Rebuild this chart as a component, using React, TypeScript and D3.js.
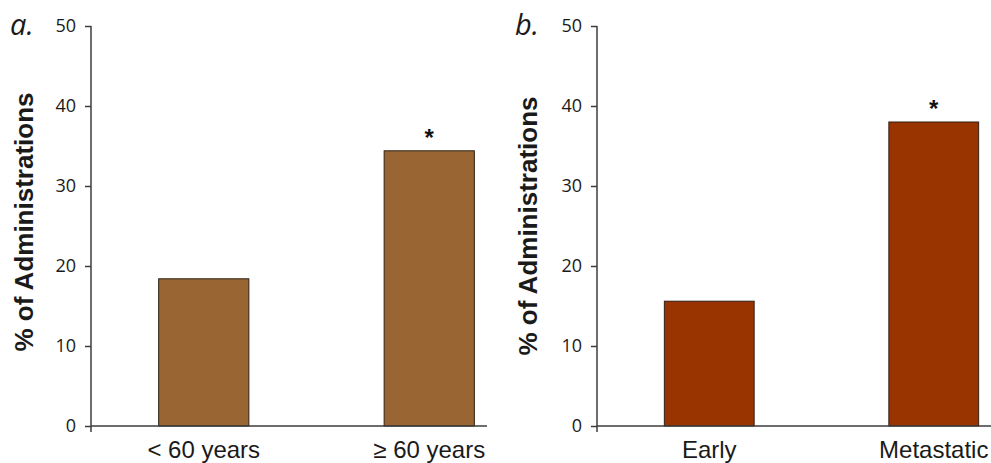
import React, { useEffect, useRef } from 'react';
import * as d3 from 'd3';

// data
const ageCategories = ['< 60 years', '≥ 60 years'];
const ageValues = [18.4, 34.4];
const ageStars = ['', '*'];

const stageCategories = ['Early', 'Metastatic'];
const stageValues = [15.6, 38.0];
const stageStars = ['', '*'];

const yTicks = [0, 10, 20, 30, 40, 50];
const yTitle = '% of Administrations';

const W = 991;
const H = 463;

type PanelOpts = {
  letter: string;
  categories: string[];
  values: number[];
  stars: string[];
  color: string;
  axisX: number;
  bandEnd: number;
  lineEnd: number;
  letterX: number;
  titleX: number;
  titleY: number;
};

const App = () => {
  const svgRef = useRef<SVGSVGElement>(null);

  useEffect(() => {
    const svg = d3.select(svgRef.current);
    svg.selectAll('*').remove();

    const y = d3.scaleLinear().domain([0, 50]).range([426, 26]);
    const axisColor = '#3c3c3c';

    const drawPanel = (p: PanelOpts) => {
      const g = svg.append('g');
      const x = d3.scaleBand<string>()
        .domain(p.categories)
        .range([p.axisX, p.bandEnd])
        .paddingInner(0.6)
        .paddingOuter(0.3);

      // bars
      g.selectAll('rect.bar')
        .data(p.values)
        .enter()
        .append('rect')
        .attr('class', 'bar')
        .attr('x', (_, i) => x(p.categories[i]) as number)
        .attr('y', d => y(d))
        .attr('width', x.bandwidth())
        .attr('height', d => y(0) - y(d))
        .attr('fill', p.color)
        .attr('stroke', '#2e2014')
        .attr('stroke-width', 1);

      // significance marks
      g.selectAll('text.star')
        .data(p.values)
        .enter()
        .append('text')
        .attr('class', 'star')
        .attr('x', (_, i) => (x(p.categories[i]) as number) + x.bandwidth() / 2)
        .attr('y', d => y(d) - 5)
        .attr('text-anchor', 'middle')
        .attr('font-family', 'Liberation Sans, Arial, sans-serif')
        .attr('font-size', 24)
        .attr('font-weight', 'bold')
        .attr('fill', '#111')
        .text((_, i) => p.stars[i]);

      // y axis
      const yAxis = g.append('g')
        .attr('transform', `translate(${p.axisX},0)`)
        .call(d3.axisLeft(y).tickValues(yTicks).tickSize(6).tickSizeOuter(0).tickPadding(9));
      yAxis.select('.domain').remove();
      yAxis.selectAll('.tick line').attr('stroke', axisColor).attr('stroke-width', 1.5);
      yAxis.selectAll('.tick text')
        .attr('fill', '#1a1a1a')
        .attr('font-size', 18)
        .attr('font-family', 'Open Sans, Liberation Sans, Arial, sans-serif');

      g.append('line')
        .attr('x1', p.axisX).attr('x2', p.axisX)
        .attr('y1', y(50)).attr('y2', y(0) + 6)
        .attr('stroke', axisColor).attr('stroke-width', 1.5);

      // x axis line
      g.append('line')
        .attr('x1', p.axisX).attr('x2', p.lineEnd)
        .attr('y1', y(0)).attr('y2', y(0))
        .attr('stroke', axisColor).attr('stroke-width', 1.5);

      // category labels
      g.selectAll('text.cat')
        .data(p.categories)
        .enter()
        .append('text')
        .attr('class', 'cat')
        .attr('x', d => (x(d) as number) + x.bandwidth() / 2)
        .attr('y', 458)
        .attr('text-anchor', 'middle')
        .attr('font-family', 'Liberation Sans, Arial, sans-serif')
        .attr('font-size', 24)
        .attr('fill', '#1a1a1a')
        .text(d => d);

      // y title
      g.append('text')
        .attr('transform', `translate(${p.titleX},${p.titleY}) rotate(-90)`)
        .attr('text-anchor', 'middle')
        .attr('font-family', 'Liberation Sans, Arial, sans-serif')
        .attr('font-size', 26)
        .attr('font-weight', 'bold')
        .attr('fill', '#1a1a1a')
        .text(yTitle);

      // panel letter
      g.append('text')
        .attr('x', p.letterX)
        .attr('y', 35)
        .attr('font-family', 'Open Sans, Liberation Sans, sans-serif')
        .attr('font-style', 'italic')
        .attr('font-size', 29)
        .attr('fill', '#1a1a1a')
        .text(p.letter);
    };

    drawPanel({
      letter: 'a.', categories: ageCategories, values: ageValues, stars: ageStars,
      color: '#996633', axisX: 91, bandEnd: 542, lineEnd: 487, letterX: 10, titleX: 33, titleY: 222,
    });
    drawPanel({
      letter: 'b.', categories: stageCategories, values: stageValues, stars: stageStars,
      color: '#993300', axisX: 597, bandEnd: 1046, lineEnd: 991, letterX: 515, titleX: 537, titleY: 226,
    });
  }, []);

  return (
    <div style={{ position: 'absolute', left: 0, top: 0, width: W, height: H, background: '#fff' }}>
      <svg ref={svgRef} width={W} height={H} style={{ display: 'block' }} />
    </div>
  );
};

export default App;
